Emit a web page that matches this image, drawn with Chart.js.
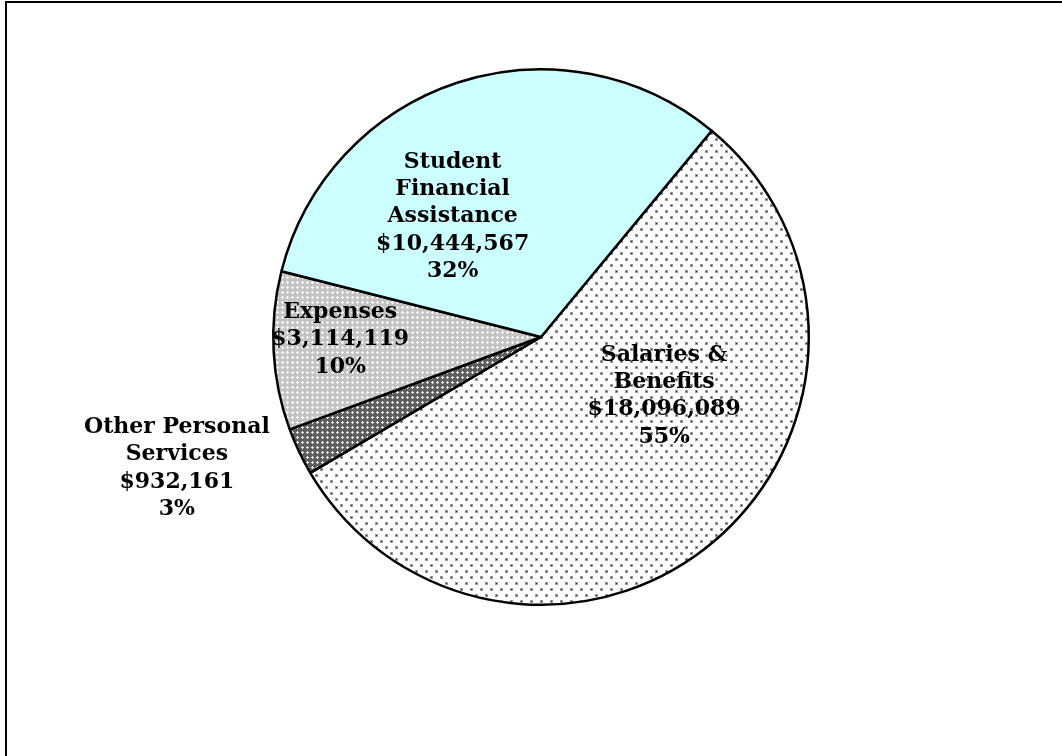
<!DOCTYPE html>
<html>
<head>
<meta charset="utf-8">
<script src="https://cdn.jsdelivr.net/npm/chart.js@4.4.0/dist/chart.umd.min.js"></script>
<style>
  html, body { margin: 0; padding: 0; background: #fff; }
  #wrap { position: relative; width: 1062px; height: 756px; overflow: hidden; }
  #frame { position: absolute; left: 5px; top: 1px; right: -10px; bottom: -10px;
           border-left: 2px solid #000; border-top: 2px solid #000; }
  canvas { position: absolute; left: 0; top: 0; }
</style>
</head>
<body>
<div id="wrap">
  <div id="frame"></div>
  <canvas id="pie" width="1062" height="756"></canvas>
</div>
<script>
// Budget breakdown, clockwise from the top-right edge
const categories = ['Salaries & Benefits', 'Other Personal Services', 'Expenses', 'Student Financial Assistance'];
const amounts = [18096089, 932161, 3114119, 10444567];
const percentLabels = ['55%', '3%', '10%', '32%'];
const labelLines = [
  ['Salaries &', 'Benefits'],
  ['Other Personal', 'Services'],
  ['Expenses'],
  ['Student', 'Financial', 'Assistance']
];

// where each label block sits, as a fraction of the radius from the centre
const labelOffsets = [[0.46, 0.22], [-1.36, 0.49], [-0.75, 0.01], [-0.33, -0.45]];

/* ======== Fill patterns ======== */
function makePattern(w, h, draw) {
  const c = document.createElement('canvas');
  c.width = w; c.height = h;
  const g = c.getContext('2d');
  draw(g);
  return g.createPattern(c, 'repeat');
}

const dots = makePattern(10, 12, g => {
  g.fillStyle = '#fff';
  g.fillRect(0, 0, 10, 12);
  g.fillStyle = '#999';
  g.fillRect(0, 0, 3, 3);
  g.fillRect(5, 6, 3, 3);
  g.fillStyle = '#333';
  g.fillRect(1, 1, 1, 1);
  g.fillRect(6, 7, 1, 1);
});

function hatch(base, spot) {
  return makePattern(5, 5, g => {
    g.fillStyle = base;
    g.fillRect(0, 0, 5, 5);
    g.fillStyle = spot;
    g.fillRect(2, 1, 1, 3);
    g.fillRect(1, 2, 3, 1);
  });
}

const fills = [dots, hatch('#5e5e5e', '#e8e8e8'), hatch('#c4c4c4', '#ffffff'), '#ccffff'];

function money(v) {
  return '$' + v.toLocaleString('en-US');
}

/* ======== Label plugin ======== */
const labelPlugin = {
  id: 'sliceLabels',
  afterDatasetsDraw(chart) {
    const ctx = chart.ctx;
    const arcs = chart.getDatasetMeta(0).data;
    ctx.save();
    ctx.fillStyle = '#000';
    ctx.font = 'bold 22px "DejaVu Serif", serif';
    ctx.textAlign = 'center';
    ctx.textBaseline = 'middle';
    const lineH = 27.3;
    arcs.forEach((arc, i) => {
      const lines = labelLines[i].concat([money(amounts[i]), percentLabels[i]]);
      const r = arc.outerRadius;
      const cx = arc.x + labelOffsets[i][0] * r;
      const cy = arc.y + labelOffsets[i][1] * r;
      const top = cy - (lines.length - 1) * lineH / 2;
      lines.forEach((t, k) => ctx.fillText(t, cx, top + k * lineH));
    });
    ctx.restore();
  }
};

const startAngle = 39.6; // degrees clockwise from 12 o'clock

new Chart(document.getElementById('pie'), {
  type: 'pie',
  data: {
    labels: categories,
    datasets: [{
      data: amounts,
      backgroundColor: fills,
      borderColor: '#000',
      borderWidth: 2.5,
      borderAlign: 'center'
    }]
  },
  options: {
    responsive: false,
    animation: false,
    rotation: startAngle,
    layout: { padding: { top: 68, bottom: 150, left: 272, right: 252 } },
    plugins: {
      legend: { display: false },
      tooltip: { enabled: false }
    }
  },
  plugins: [labelPlugin]
});
</script>
</body>
</html>
